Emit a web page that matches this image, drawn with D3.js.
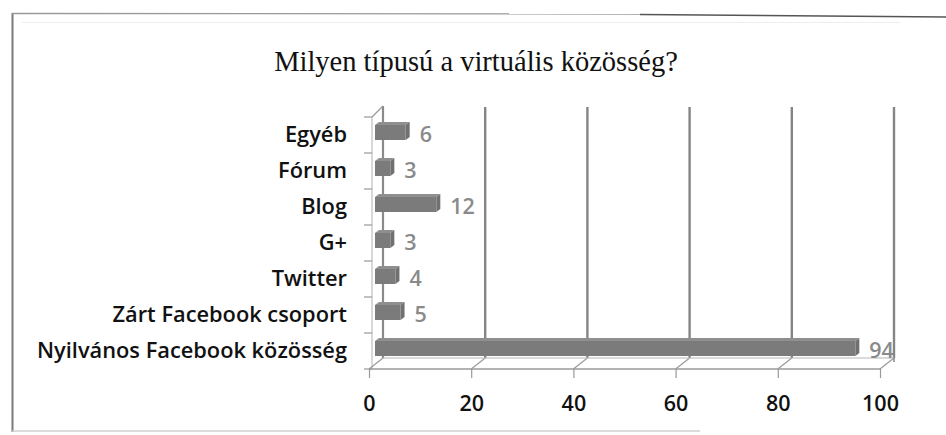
<!DOCTYPE html>
<html>
<head>
<meta charset="utf-8">
<script src="https://cdn.jsdelivr.net/npm/d3@7"></script>
<style>
  html, body { margin: 0; padding: 0; background: #fff; }
  svg { display: block; }
</style>
</head>
<body>
<svg id="chart" width="946" height="435"></svg>
<script>
const title = "Milyen típusú a virtuális közösség?";
const categories = ["Egyéb", "Fórum", "Blog", "G+", "Twitter", "Zárt Facebook csoport", "Nyilvános Facebook közösség"];
const values = [6, 3, 12, 3, 4, 5, 94];
const xTicks = [0, 20, 40, 60, 80, 100];

const svg = d3.select("#chart");

// frame
svg.append("line").attr("x1", 12.5).attr("x2", 12.5).attr("y1", 13).attr("y2", 432)
  .attr("stroke", "#7a7a7a").attr("stroke-width", 2);
svg.append("line").attr("x1", 12).attr("x2", 640).attr("y1", 13.5).attr("y2", 14)
  .attr("stroke", "#999").attr("stroke-width", 1.3);
svg.append("line").attr("x1", 640).attr("x2", 946).attr("y1", 14.5).attr("y2", 17)
  .attr("stroke", "#555").attr("stroke-width", 1.6);
svg.append("line").attr("x1", 12).attr("x2", 700).attr("y1", 431).attr("y2", 431)
  .attr("stroke", "#cfcfcf").attr("stroke-width", 1.5);
svg.append("line").attr("x1", 22).attr("x2", 900).attr("y1", 22.5).attr("y2", 22.5)
  .attr("stroke", "#eeeeee").attr("stroke-width", 1);

// title
svg.append("text").attr("x", 476).attr("y", 71).attr("text-anchor", "middle")
  .attr("font-family", "'Liberation Serif', 'Times New Roman', serif")
  .attr("font-size", 28.5).attr("fill", "#111").text(title);

// scales
const xF = d3.scaleLinear().domain([0, 100]).range([369, 880]);
const yBand = d3.scaleBand().domain(categories).range([117, 369]).padding(0);
const depthX = 14, depthY = -11;
const yTop = yBand.range()[0], yBot = yBand.range()[1];

const g = svg.append("g");

// back wall gridlines
g.selectAll("line.grid").data(xTicks.slice(1)).enter().append("line")
  .attr("class", "grid")
  .attr("x1", d => xF(d) + depthX).attr("x2", d => xF(d) + depthX)
  .attr("y1", yTop + depthY + 1).attr("y2", yBot + depthY)
  .attr("stroke", "#858585").attr("stroke-width", 2.4);

// back-left wall edge
g.append("line").attr("x1", xF(0) + depthX).attr("x2", xF(0) + depthX)
  .attr("y1", yTop + depthY).attr("y2", yBot + depthY)
  .attr("stroke", "#8a8a8a").attr("stroke-width", 2.2);
// front-left edge
g.append("line").attr("x1", xF(0) + 3).attr("x2", xF(0) + 3)
  .attr("y1", yTop).attr("y2", yBot)
  .attr("stroke", "#b0b0b0").attr("stroke-width", 1);
// top-left diagonal
g.append("line").attr("x1", xF(0) + 3).attr("x2", xF(0) + depthX)
  .attr("y1", yTop).attr("y2", yTop + depthY)
  .attr("stroke", "#999").attr("stroke-width", 1.2);

// floor diagonals
g.selectAll("line.floor").data(xTicks).enter().append("line")
  .attr("class", "floor")
  .attr("x1", d => xF(d)).attr("x2", d => xF(d) + depthX)
  .attr("y1", yBot).attr("y2", yBot + depthY)
  .attr("stroke", "#9a9a9a").attr("stroke-width", 1.2);
// back floor line
g.append("line").attr("x1", xF(0) + depthX).attr("x2", xF(100) + depthX)
  .attr("y1", yBot + depthY).attr("y2", yBot + depthY)
  .attr("stroke", "#b5b5b5").attr("stroke-width", 1);

// category boundary ticks
const bounds = categories.map(c => yBand(c)).concat([yBot]);
g.selectAll("line.ytick").data(bounds).enter().append("line")
  .attr("class", "ytick")
  .attr("x1", xF(0) - 5).attr("x2", xF(0) + 3)
  .attr("y1", d => d).attr("y2", d => d)
  .attr("stroke", "#999").attr("stroke-width", 1.2);

// bars
const barOff = 6, sideW = 4, topH = 3;
const bars = g.selectAll("g.bar").data(categories.map((c, i) => ({c, v: values[i]}))).enter()
  .append("g").attr("class", "bar");
const yc = d => yBand(d.c) + yBand.bandwidth() / 2;
// top face
bars.append("path")
  .attr("d", d => {
    const x0 = xF(0) + barOff, x1 = xF(d.v) + barOff, y0 = yc(d) - 10;
    return `M${x0},${y0} L${x0 + sideW},${y0 - topH} L${x1 + sideW},${y0 - topH} L${x1},${y0} Z`;
  })
  .attr("fill", "#8f8f8f");
// side face
bars.append("path")
  .attr("d", d => {
    const x1 = xF(d.v) + barOff, y0 = yc(d) - 10, y1 = yc(d) + 5;
    return `M${x1},${y0} L${x1 + sideW},${y0 - topH} L${x1 + sideW},${y1 - topH} L${x1},${y1} Z`;
  })
  .attr("fill", "#707070");
// front face
bars.append("rect")
  .attr("x", xF(0) + barOff)
  .attr("y", d => yc(d) - 10)
  .attr("width", d => xF(d.v) - xF(0))
  .attr("height", 15)
  .attr("fill", "#7b7b7b");

// value labels
bars.append("text")
  .attr("x", d => xF(d.v) + barOff + sideW + 10)
  .attr("y", d => yc(d) - 1)
  .attr("dy", "0.35em")
  .attr("font-family", "'Open Sans', sans-serif")
  .attr("font-weight", 600)
  .attr("font-size", 21.5)
  .attr("fill", "#8a8a8a")
  .text(d => d.v);

// front floor line
g.append("line").attr("x1", xF(0)).attr("x2", xF(100))
  .attr("y1", yBot).attr("y2", yBot)
  .attr("stroke", "#9a9a9a").attr("stroke-width", 1.5);
// right wall front edge
g.append("line").attr("x1", xF(100) + depthX).attr("x2", xF(100) + depthX)
  .attr("y1", yBot + depthY).attr("y2", yBot + depthY + 4)
  .attr("stroke", "#888").attr("stroke-width", 1.5);

// x axis
const xAxis = d3.axisBottom(xF).tickValues(xTicks).tickSize(9).tickPadding(18).tickFormat(d3.format("d"));
const xg = svg.append("g").attr("transform", `translate(0,${yBot})`).call(xAxis);
xg.select(".domain").remove();
xg.selectAll(".tick line").attr("stroke", "#999").attr("stroke-width", 1.2);
xg.selectAll(".tick text")
  .attr("font-family", "'Open Sans', sans-serif")
  .attr("font-weight", 600)
  .attr("font-size", 21.5)
  .attr("fill", "#111");

// y axis labels
const yAxis = d3.axisLeft(yBand).tickSize(0).tickPadding(25);
const yg = svg.append("g").attr("transform", `translate(${xF(0) + 3},0)`).call(yAxis);
yg.select(".domain").remove();
yg.selectAll(".tick text")
  .attr("font-family", "'Open Sans', sans-serif")
  .attr("font-weight", 600)
  .attr("font-size", 21.8)
  .attr("fill", "#111");
</script>
</body>
</html>
